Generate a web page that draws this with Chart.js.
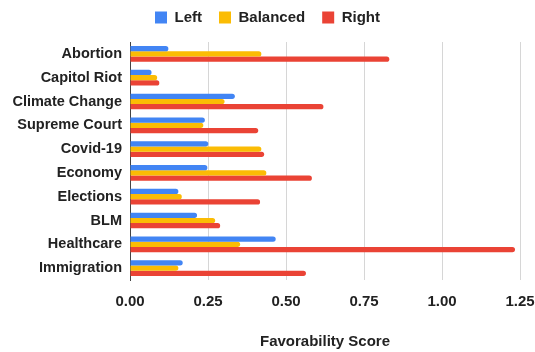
<!DOCTYPE html>
<html>
<head>
<meta charset="utf-8">
<script src="https://cdn.jsdelivr.net/npm/chart.js@4"></script>
<style>
    html, body { margin: 0; padding: 0; background: #fff; }
    #wrap { width: 535px; height: 352px; }
</style>
</head>
<body>
<div id="wrap"><canvas id="favChart" width="535" height="352"></canvas></div>
<script>
// Topics on the vertical axis
const topics = ['Abortion', 'Capitol Riot', 'Climate Change', 'Supreme Court', 'Covid-19',
    'Economy', 'Elections', 'BLM', 'Healthcare', 'Immigration'];

// Favorability score per topic for each source leaning
const leftScores = [0.123, 0.069, 0.336, 0.240, 0.251, 0.248, 0.155, 0.215, 0.467, 0.169];
const balancedScores = [0.421, 0.087, 0.303, 0.235, 0.421, 0.437, 0.166, 0.273, 0.353, 0.155];
const rightScores = [0.831, 0.094, 0.620, 0.411, 0.430, 0.583, 0.417, 0.289, 1.234, 0.564];

// Value axis ticks
const scoreTicks = [0, 0.25, 0.5, 0.75, 1, 1.25];

const FONT = 'Arial, "Liberation Sans", sans-serif';
const TEXT = '#222222';

function series(label, data, color) {
    return {
        label: label,
        data: data,
        backgroundColor: color,
        borderRadius: 3,
        borderSkipped: 'start',
        barPercentage: 1,
        categoryPercentage: 0.66
    };
}

// Legend padding is also used vertically, so fix its box height by hand
const legendHeight = {
    id: 'legendHeight',
    beforeInit(chart) {
        const fit = chart.legend.fit;
        chart.legend.fit = function () {
            fit.call(this);
            this.height = 49;
        };
    }
};

const ctx = document.getElementById('favChart').getContext('2d');
new Chart(ctx, {
    type: 'bar',
    data: {
        labels: topics,
        datasets: [
            series('Left', leftScores, '#4285F4'),
            series('Balanced', balancedScores, '#FBBC04'),
            series('Right', rightScores, '#EA4335')
        ]
    },
    options: {
        indexAxis: 'y',
        responsive: false,
        animation: false,
        layout: { padding: { top: -7, right: 0, bottom: 0, left: 0 } },
        plugins: {
            legend: {
                position: 'top',
                labels: {
                    boxWidth: 12,
                    boxHeight: 12,
                    padding: 17,
                    color: TEXT,
                    font: { family: FONT, size: 15, weight: 'bold' }
                }
            },
            tooltip: { enabled: false }
        },
        scales: {
            x: {
                min: 0,
                max: 1.25,
                afterBuildTicks: (scale) => {
                    scale.ticks = scoreTicks.map(v => ({ value: v }));
                },
                afterFit: (scale) => {
                    scale.height = 72;
                    // keep the last tick label close to the right edge
                    scale.paddingLeft = 0;
                    scale.paddingRight = 15;
                },
                ticks: {
                    padding: 13,
                    color: TEXT,
                    font: { family: FONT, size: 15, weight: 'bold' },
                    callback: (v) => Number(v).toFixed(2)
                },
                grid: { color: '#d6d6d6', drawTicks: false },
                border: { display: false },
                title: {
                    display: true,
                    text: 'Favorability Score',
                    color: TEXT,
                    padding: { top: 22, bottom: 1 },
                    font: { family: FONT, size: 15, weight: 'bold' }
                }
            },
            y: {
                afterFit: (scale) => { scale.width = 130; },
                ticks: {
                    padding: 8,
                    color: TEXT,
                    font: { family: FONT, size: 14.5, weight: 'bold' }
                },
                grid: { display: false, drawTicks: false },
                border: { display: true, color: '#444444', width: 1 }
            }
        }
    },
    plugins: [legendHeight]
});
</script>
</body>
</html>
